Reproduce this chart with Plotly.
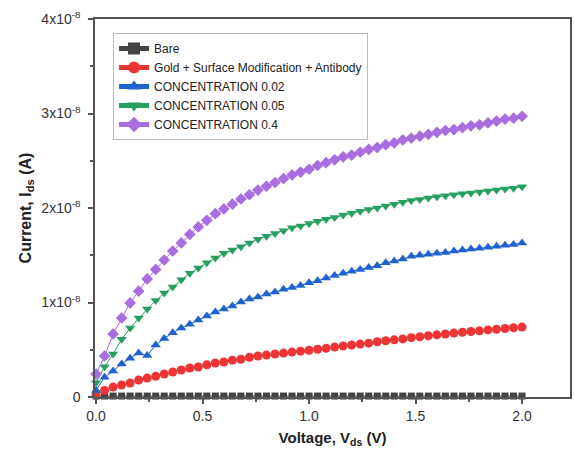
import plotly.graph_objects as go

voltage = [0.00, 0.04, 0.08, 0.12, 0.16, 0.20, 0.24, 0.28, 0.32, 0.36,
           0.40, 0.44, 0.48, 0.52, 0.56, 0.60, 0.64, 0.68, 0.72, 0.76,
           0.80, 0.84, 0.88, 0.92, 0.96, 1.00, 1.04, 1.08, 1.12, 1.16,
           1.20, 1.24, 1.28, 1.32, 1.36, 1.40, 1.44, 1.48, 1.52, 1.56,
           1.60, 1.64, 1.68, 1.72, 1.76, 1.80, 1.84, 1.88, 1.92, 1.96, 2.00]

# currents in units of 1e-8 A
bare = [0.01] * 51
gold = [0.02, 0.07, 0.105, 0.127, 0.148, 0.18, 0.20, 0.22, 0.243, 0.265,
        0.286, 0.307, 0.317, 0.34, 0.36, 0.37, 0.39, 0.40, 0.42, 0.434,
        0.445, 0.455, 0.465, 0.475, 0.485, 0.495, 0.505, 0.515, 0.528, 0.54,
        0.55, 0.56, 0.57, 0.585, 0.595, 0.605, 0.615, 0.628, 0.638, 0.648,
        0.658, 0.667, 0.676, 0.685, 0.693, 0.70, 0.71, 0.717, 0.725, 0.733, 0.74]
conc_002 = [0.07, 0.21, 0.275, 0.35, 0.41, 0.465, 0.44, 0.55, 0.62, 0.68,
            0.73, 0.77, 0.815, 0.857, 0.90, 0.93, 0.963, 1.005, 1.037, 1.058,
            1.09, 1.11, 1.14, 1.16, 1.18, 1.21, 1.23, 1.26, 1.285, 1.31,
            1.33, 1.35, 1.37, 1.39, 1.42, 1.44, 1.46, 1.49, 1.50, 1.51,
            1.52, 1.53, 1.545, 1.555, 1.565, 1.575, 1.585, 1.595, 1.605, 1.615, 1.63]
conc_005 = [0.15, 0.32, 0.455, 0.61, 0.73, 0.836, 0.93, 1.02, 1.10, 1.165,
            1.24, 1.31, 1.365, 1.42, 1.47, 1.52, 1.555, 1.59, 1.63, 1.67,
            1.70, 1.73, 1.76, 1.79, 1.81, 1.835, 1.86, 1.88, 1.90, 1.925,
            1.945, 1.965, 1.985, 2.00, 2.02, 2.04, 2.06, 2.08, 2.09, 2.105,
            2.12, 2.13, 2.14, 2.15, 2.16, 2.17, 2.18, 2.19, 2.20, 2.21, 2.225]
conc_04 = [0.243, 0.434, 0.667, 0.836, 0.995, 1.12, 1.25, 1.35, 1.45, 1.545,
           1.63, 1.72, 1.80, 1.87, 1.94, 1.99, 2.04, 2.095, 2.14, 2.19,
           2.23, 2.27, 2.31, 2.35, 2.38, 2.41, 2.45, 2.48, 2.51, 2.54,
           2.56, 2.59, 2.62, 2.64, 2.67, 2.69, 2.72, 2.74, 2.76, 2.78,
           2.80, 2.82, 2.83, 2.85, 2.87, 2.88, 2.90, 2.92, 2.94, 2.95, 2.97]

names = ["Bare", "Gold + Surface Modification + Antibody",
         "CONCENTRATION 0.02", "CONCENTRATION 0.05", "CONCENTRATION 0.4"]
series = [bare, gold, conc_002, conc_005, conc_04]
colors = ["#444444", "#ee3535", "#1f62d0", "#26a061", "#a86ddf"]
symbols = ["square", "circle", "triangle-up", "triangle-down", "diamond"]
sizes = [7, 9, 9, 9, 9]

y_tickvals = [0, 1, 2, 3, 4]
y_ticktext = ["0", "1x10<sup>-8</sup>", "2x10<sup>-8</sup>",
              "3x10<sup>-8</sup>", "4x10<sup>-8</sup>"]
x_tickvals = [0.0, 0.5, 1.0, 1.5, 2.0]
x_ticktext = ["0.0", "0.5", "1.0", "1.5", "2.0"]

fig = go.Figure()
for name, ys, c, s, sz in zip(names, series, colors, symbols, sizes):
    fig.add_trace(go.Scatter(
        x=voltage, y=ys, name=name, mode="lines+markers",
        line=dict(color=c, width=1),
        marker=dict(symbol=s, size=sz, color=c, line=dict(width=0)),
        cliponaxis=False,
    ))

font = "Liberation Sans, Arial, sans-serif"
fig.update_layout(
    width=574, height=459,
    margin=dict(l=95, r=4, t=19, b=62),
    paper_bgcolor="white", plot_bgcolor="white",
    font=dict(family=font, size=12, color="#222222"),
    showlegend=True,
    legend=dict(
        x=0.038, y=0.963, xanchor="left", yanchor="top",
        bgcolor="white", bordercolor="#bbbbbb", borderwidth=1,
        font=dict(size=12, color="#222222"),
        tracegroupgap=0, itemsizing="constant", itemwidth=30,
    ),
    xaxis=dict(
        range=[-0.005, 2.225], tickvals=x_tickvals, ticktext=x_ticktext,
        showgrid=False, zeroline=False, showline=True, linecolor="#555555",
        linewidth=1.5, mirror=True, ticks="outside", ticklen=5, tickwidth=1.5,
        tickcolor="#555555", tickfont=dict(size=14, color="#333333"),
        minor=dict(dtick=0.25, ticks="outside", ticklen=3, tickcolor="#555555"),
        automargin=False,
        title=dict(text="<b>Voltage, V<sub>ds</sub> (V)</b>",
                   font=dict(size=15, color="#222222"), standoff=10),
    ),
    yaxis=dict(
        range=[0, 4], tickvals=y_tickvals, ticktext=y_ticktext,
        showgrid=False, zeroline=False, showline=True, linecolor="#555555",
        linewidth=1.5, mirror=True, ticks="outside", ticklen=5, tickwidth=1.5,
        tickcolor="#555555", tickfont=dict(size=14, color="#333333"),
        ticklabelstandoff=5,
        minor=dict(dtick=0.5, ticks="outside", ticklen=3, tickcolor="#555555"),
        automargin=False,
        title=dict(text="<b>Current, I<sub>ds</sub> (A)</b>",
                   font=dict(size=16, color="#222222"), standoff=6),
    ),
)

fig.write_html(
    "out.html",
    config={"displayModeBar": False},
    post_script="document.body.style.margin='0';document.body.style.overflow='hidden';",
)
